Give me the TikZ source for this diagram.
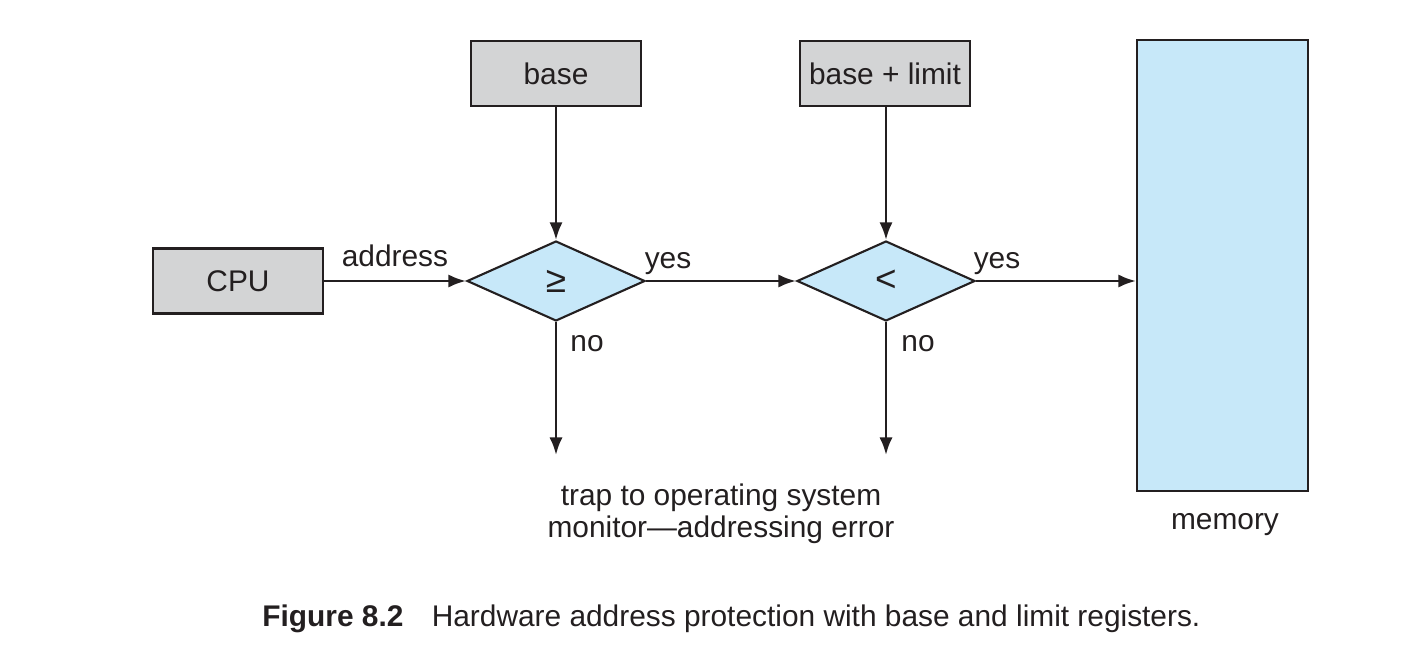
\documentclass[tikz,border=0pt]{standalone}
\usepackage{fontspec}
\setmainfont{Liberation Sans}
\usetikzlibrary{shapes.geometric, arrows.meta, positioning, calc}
\definecolor{regfill}{HTML}{D3D4D5}
\definecolor{memfill}{HTML}{C7E8F9}
\definecolor{ink}{HTML}{231F20}

\begin{document}
\begin{tikzpicture}[x=0.02cm, y=-0.02cm,
		font=\fontsize{17}{18.2}\selectfont, text=ink,
		regbox/.style={draw=ink, fill=regfill, line width=1.2pt, minimum width=3.4cm, minimum height=1.3cm, inner sep=0pt},
		test/.style={diamond, draw=ink, fill=memfill, line width=1.2pt, aspect=2.225, minimum width=3.56cm, minimum height=1.6cm, inner sep=0pt, font=\fontsize{21}{21}\selectfont},
		flow/.style={draw=ink, line width=1.5pt, -{Latex[length=10pt, width=7.5pt]}}]
	\useasboundingbox (0,0) rectangle (1424,669);
	
	% Registers and CPU
	\node[regbox] (cpu) at (238,281) {CPU};
	\node[regbox] (base) at (556,73.5) {base};
	\node[regbox] (limit) at (885,73.5) {base + limit};
	
	% Comparators
	\node[test] (ge) at (556,281) {≥};
	\node[test] (lt) at (886,281) {<};
	
	% Memory
	\node[draw=ink, fill=memfill, line width=1.2pt, minimum width=3.42cm, minimum height=9.02cm, inner sep=0pt] (mem) at (1222.5,265.5) {};
	\node[anchor=base] (memlbl) at (1225,529) {memory};
	
	% Ends of the trap arrows
	\coordinate (trapA) at (556,455);
	\coordinate (trapB) at (886,455);
	
	% Draw connectors
	\draw[flow] (cpu) -- (ge.west) node[midway, above=4pt] (addr) {address};
	\draw[flow] (base) -- (ge.north);
	\draw[flow] (limit.south -| lt.north) -- (lt.north);
	\draw[flow] (ge.east) -- (lt.west);
	\draw[flow] (lt.east) -- (lt.east -| mem.west);
	\draw[flow] (ge.south) -- (trapA);
	\draw[flow] (lt.south) -- (trapB);
	
	% Labels
	\node[anchor=base] (yesA) at (668,268) {yes};
	\node[anchor=base] (yesB) at (997,268) {yes};
	\node[anchor=base] (noA) at (587,351) {no};
	\node[anchor=base] (noB) at (918,351) {no};
	\node[align=center] (trap) at (721,514) {trap to operating system\\monitor—addressing error};
	
	% Caption
	\node[anchor=base west, inner sep=0pt] (cap) at (262,626) {\textbf{Figure 8.2}\hspace{0.95em}Hardware address protection with base and limit registers.};
\end{tikzpicture}
\end{document}
